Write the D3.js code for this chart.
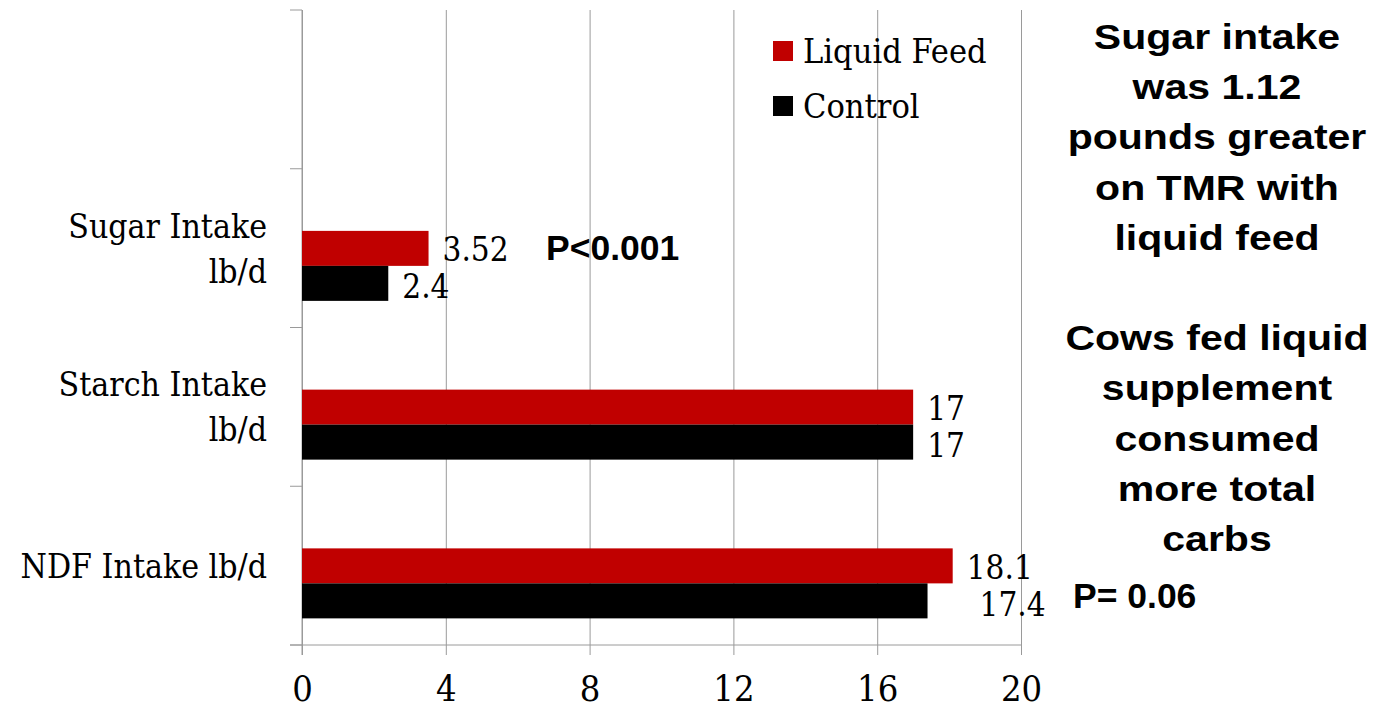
<!DOCTYPE html>
<html>
<head>
<meta charset="utf-8">
<script src="https://cdn.jsdelivr.net/npm/d3@7"></script>
<style>
  html, body { margin: 0; padding: 0; background: #fff; }
  svg { display: block; }
  .serif { font-family: "DejaVu Serif Condensed", "DejaVu Serif", serif; font-stretch: condensed; }
  .sans { font-family: "Liberation Sans", Arial, sans-serif; font-weight: bold; }
</style>
</head>
<body>
<svg id="chart" width="1390" height="709"></svg>
<script>
// ---- data ----
const categories = ["", "Sugar Intake|lb/d", "Starch Intake|lb/d", "NDF Intake lb/d"];
const seriesNames = ["Liquid Feed", "Control"];
const liquidFeed = [null, 3.52, 17, 18.1];
const control = [null, 2.4, 17, 17.4];
const xTicks = [0, 4, 8, 12, 16, 20];
const sideNote1 = ["Sugar intake", "was 1.12", "pounds greater", "on TMR with", "liquid feed"];
const sideNote2 = ["Cows fed liquid", "supplement", "consumed", "more total", "carbs"];
const pNotes = [
  { category: "Sugar Intake|lb/d", text: "P<0.001" },
  { category: "NDF Intake lb/d", text: "P= 0.06" }
];

// ---- layout ----
const colors = { "Liquid Feed": "#C00000", "Control": "#000000" };
const gridColor = "#9a9a9a";
const svg = d3.select("#chart");
const plot = { left: 302, right: 1021, top: 10, bottom: 645 };

const x = d3.scaleLinear().domain([0, 20]).range([plot.left, plot.right]);
const y = d3.scaleBand().domain(categories).range([plot.top, plot.bottom]).paddingInner(0).paddingOuter(0);
const ySub = d3.scaleBand().domain(seriesNames).range([0, y.bandwidth()])
  .paddingInner(0).paddingOuter(1.268).align(0.7);

// gridlines + x axis
const xAxis = d3.axisBottom(x).tickValues(xTicks).tickSize(10).tickPadding(20).tickFormat(d3.format("d"));
const gx = svg.append("g").attr("transform", `translate(0,${plot.bottom})`).call(xAxis);
gx.select(".domain").remove();
gx.selectAll(".tick line").attr("stroke", gridColor).attr("y1", -(plot.bottom - plot.top));
gx.selectAll(".tick text").attr("class", "serif").attr("font-size", 36).attr("fill", "#000")
  .attr("dy", "0.71em");

// horizontal axis line
svg.append("line").attr("x1", plot.left - 12).attr("x2", plot.right)
  .attr("y1", plot.bottom).attr("y2", plot.bottom).attr("stroke", gridColor);

// y axis line + boundary ticks
svg.append("line").attr("x1", plot.left).attr("x2", plot.left)
  .attr("y1", plot.top).attr("y2", plot.bottom + 10).attr("stroke", gridColor);
const boundaries = categories.map(c => y(c)).concat([plot.bottom]);
svg.append("g").selectAll("line").data(boundaries).join("line")
  .attr("x1", plot.left - 12).attr("x2", plot.left)
  .attr("y1", d => d).attr("y2", d => d).attr("stroke", gridColor);

// category labels
const catG = svg.append("g").attr("class", "serif").attr("font-size", 33.5).attr("text-anchor", "end");
categories.forEach(c => {
  if (!c) return;
  const lines = c.split("|");
  const cy = y(c) + y.bandwidth() / 2;
  const lh = 45;
  const t = catG.append("text").attr("x", 267);
  lines.forEach((ln, i) => {
    t.append("tspan").attr("x", 267)
      .attr("y", cy + 12 + (i - (lines.length - 1) / 2) * lh).text(ln);
  });
});

// bars
const rows = [];
categories.forEach((c, i) => {
  if (liquidFeed[i] != null) rows.push({ c, s: "Liquid Feed", v: liquidFeed[i] });
  if (control[i] != null) rows.push({ c, s: "Control", v: control[i] });
});
svg.append("g").selectAll("rect").data(rows).join("rect")
  .attr("x", x(0))
  .attr("y", d => y(d.c) + ySub(d.s))
  .attr("width", d => x(d.v) - x(0))
  .attr("height", ySub.bandwidth())
  .attr("fill", d => colors[d.s]);

// value labels
const labelShift = { "NDF Intake lb/d|Control": 38 };
svg.append("g").attr("class", "serif").attr("font-size", 33).selectAll("text").data(rows).join("text")
  .attr("x", d => x(d.v) + 14 + (labelShift[d.c + "|" + d.s] || 0))
  .attr("y", d => y(d.c) + ySub(d.s) + ySub.bandwidth() / 2 + (d.s === "Control" ? 15 : 13))
  .text(d => d.v);

// legend
const lg = svg.append("g").attr("class", "serif").attr("font-size", 34);
seriesNames.forEach((s, i) => {
  const ly = 41 + i * 55;
  lg.append("rect").attr("x", 773).attr("y", ly).attr("width", 20).attr("height", 20).attr("fill", colors[s]);
  lg.append("text").attr("x", 803).attr("y", ly + 22).text(s);
});

// p-value notes
const pX = { "P<0.001": 546, "P= 0.06": 1073 };
svg.append("g").attr("class", "sans").attr("font-size", 35.5).selectAll("text").data(pNotes).join("text")
  .attr("x", d => pX[d.text])
  .attr("y", d => y(d.category) + y.bandwidth() / 2 + (d.text === "P<0.001" ? 12 : 42))
  .text(d => d.text);

// side notes
const cx = 1217, sx = 1.14;
const ng = svg.append("g").attr("class", "sans").attr("font-size", 36)
  .attr("transform", `translate(${cx},0) scale(${sx},1)`).attr("text-anchor", "middle");
const noteLines = sideNote1.concat([""], sideNote2);
noteLines.forEach((ln, i) => {
  if (!ln) return;
  ng.append("text").attr("x", 0).attr("y", 49 + i * 50.2).text(ln);
});
</script>
</body>
</html>
